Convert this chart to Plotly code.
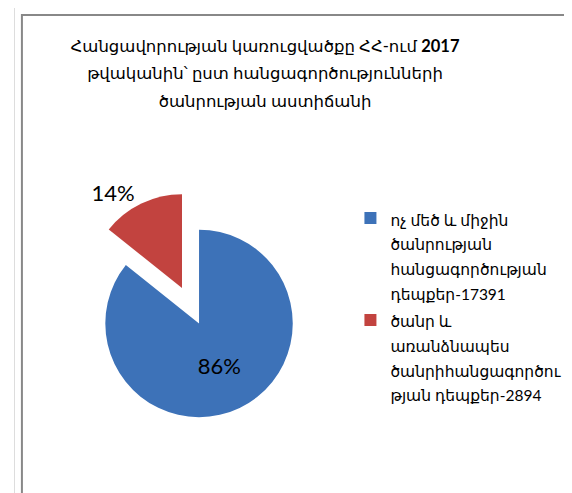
import plotly.graph_objects as go

category_lines = [["ոչ մեծ և միջին", "ծանրության", "հանցագործության", "դեպքեր"],
                  ["ծանր և", "առանձնապես", "ծանրիհանցագործու", "թյան դեպքեր"]]
values = [17391, 2894]
colors = ["#3d72b8", "#c2433f"]
pulls = [0, 0.42]
text_positions = ["inside", "outside"]
title_lines = ["Հանցավորության կառուցվածքը ՀՀ-ում <b>2017</b>",
               "թվականին՝ ըստ հանցագործությունների",
               "ծանրության աստիճանի"]

def sized(lines, size):
    return "<br>".join(f"<span style='font-size:{size}px'>{ln}</span>" for ln in lines)

labels = [sized(lines[:-1] + [f"{lines[-1]}-{v}"], 15.5) for lines, v in zip(category_lines, values)]

W, H = 572, 493
def px(x):
    return x / W
def py(y):
    return 1 - y / H

fam = "Lato, DejaVu Sans, sans-serif"

fig = go.Figure(go.Pie(
    labels=labels,
    values=values,
    sort=False,
    direction="clockwise",
    rotation=0,
    pull=pulls,
    marker=dict(colors=colors, line=dict(width=0)),
    textinfo="percent",
    texttemplate="%{percent:.0%}",
    textposition=text_positions,
    textfont=dict(family=fam, size=22, color="black"),
    insidetextorientation="horizontal",
    domain=dict(x=[px(52), px(322)], y=[py(455), py(185)]),
))

fig.update_layout(
    width=W, height=H,
    margin=dict(l=0, r=0, t=0, b=0),
    paper_bgcolor="white",
    plot_bgcolor="white",
    font=dict(family=fam, color="black"),
    title=dict(
        text=sized(title_lines, 16.5),
        x=px(257), xanchor="center",
        y=py(44), yanchor="top",
        font=dict(family=fam, size=21, color="black"),
    ),
    legend=dict(
        x=px(340), xanchor="left",
        y=py(194), yanchor="top",
        valign="top",
        font=dict(family=fam, size=19, color="black"),
        bgcolor="rgba(0,0,0,0)",
        itemclick=False,
    ),
    shapes=[
        dict(type="rect", xref="paper", yref="paper",
             x0=px(8), x1=px(600), y0=py(520), y1=py(7),
             line=dict(color="#888888", width=2)),
        dict(type="line", xref="paper", yref="paper",
             x0=px(0.5), x1=px(0.5), y0=0, y1=1,
             line=dict(color="#dddddd", width=1)),
    ],
)

fig.write_html("out.html")
